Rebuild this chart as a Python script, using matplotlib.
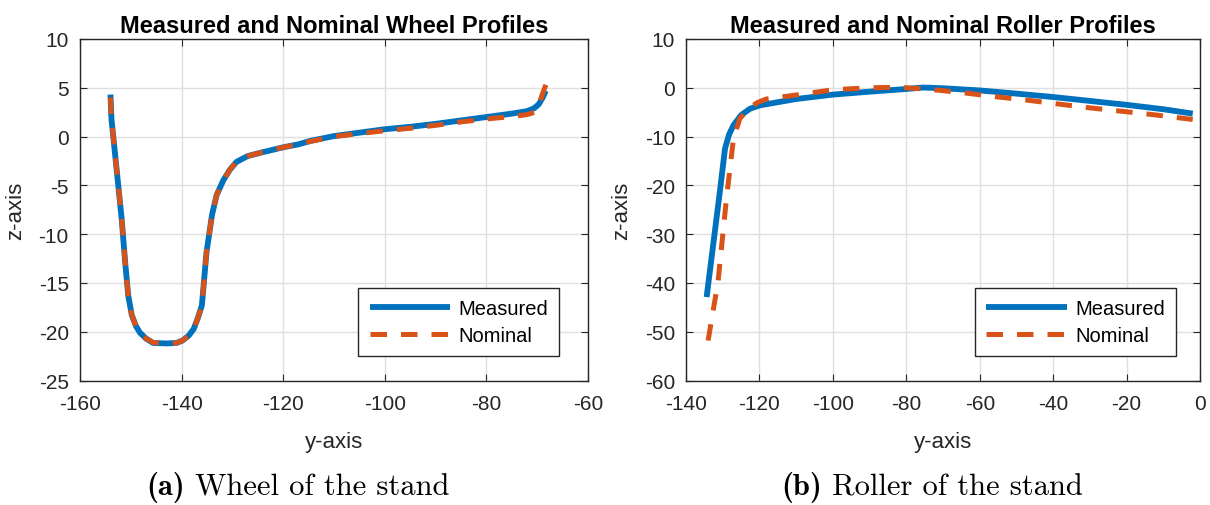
import matplotlib.pyplot as plt
import numpy as np

plt.rcParams['font.family'] = ['Liberation Sans', 'DejaVu Sans']
plt.rcParams['axes.unicode_minus'] = False

# wheel profile (measured / nominal)
wheel_y_meas = [-154.0, -153.8, -152.8, -151.8, -151.1, -150.5, -149.8, -149.0, -148.2,
                -147.0, -145.6, -143.0, -141.0, -139.8, -138.6, -137.6, -136.8, -136.0,
                -135.1, -134.0, -133.1, -131.8, -130.5, -129.2, -127.0, -124.0, -120.0,
                -117.0, -114.7, -110.0, -105.0, -100.0, -95.0, -90.0, -85.0, -80.0,
                -75.0, -72.0, -70.6, -69.7, -68.9, -68.3]
wheel_z_meas = [4.3, 1.8, -3.3, -8.4, -12.9, -16.3, -18.3, -19.4, -20.1,
                -20.7, -21.15, -21.2, -21.15, -20.9, -20.4, -19.7, -18.6, -17.3,
                -11.9, -8.0, -6.0, -4.5, -3.4, -2.6, -2.0, -1.6, -1.1,
                -0.8, -0.45, 0.05, 0.4, 0.75, 1.0, 1.3, 1.65, 2.0,
                2.35, 2.6, 2.9, 3.3, 4.0, 4.7]

wheel_y_nom = [-154.0, -153.8, -152.8, -151.8, -151.1, -150.5, -149.8, -149.0, -148.2,
               -147.0, -145.6, -143.0, -141.0, -139.8, -138.6, -137.6, -136.8, -136.0,
               -135.1, -134.0, -133.1, -131.8, -130.5, -129.2, -127.0, -124.0, -120.0,
               -117.0, -114.7, -110.0, -105.0, -100.0, -95.0, -90.0, -85.0, -80.0,
               -75.0, -72.0, -70.4, -69.6, -68.8, -68.2]
wheel_z_nom = [4.0, 1.8, -3.3, -8.4, -12.9, -16.3, -18.3, -19.4, -20.1,
               -20.7, -21.1, -21.2, -21.15, -20.9, -20.4, -19.7, -18.6, -17.3,
               -11.9, -8.0, -6.0, -4.5, -3.4, -2.6, -2.0, -1.6, -1.1,
               -0.8, -0.5, 0.0, 0.3, 0.6, 0.85, 1.15, 1.5, 1.8,
               2.05, 2.25, 2.5, 3.4, 4.6, 5.4]

# roller profile (measured / nominal)
roller_y_meas = [-134.4, -130.7, -129.4, -128.3, -127.1, -125.0, -122.6, -119.9,
                 -110.0, -100.0, -90.0, -80.0, -75.5, -70.0, -60.0, -50.0, -40.0,
                 -30.0, -20.0, -10.0, -2.0]
roller_z_meas = [-42.9, -20.7, -12.5, -9.6, -7.7, -5.6, -4.3, -3.6,
                 -2.3, -1.4, -0.8, -0.25, 0.05, -0.1, -0.55, -1.2, -1.9,
                 -2.7, -3.5, -4.4, -5.3]

roller_y_nom = [-134.0, -131.3, -129.0, -127.1, -125.4, -123.1, -120.5, -118.1,
                -107.2, -100.0, -90.0, -81.8, -73.3, -64.7, -56.1, -47.5, -38.9,
                -30.2, -21.5, -12.9, -4.2, -2.0]
roller_z_nom = [-51.8, -39.8, -22.7, -10.5, -6.4, -4.3, -3.0, -2.3,
                -1.2, -0.4, 0.0, 0.1, -0.35, -1.0, -1.8, -2.5, -3.3,
                -4.1, -4.8, -5.5, -6.3, -6.5]

blue = '#0072BD'
orange = '#D95319'

fig = plt.figure(figsize=(12.1, 5.06), dpi=100)
ax1 = fig.add_axes([0.0661, 0.246, 0.4198, 0.675])
ax2 = fig.add_axes([0.567, 0.246, 0.4248, 0.675])


def style_axes(ax, title, leg_anchor):
    ax.set_title(title, fontsize=17, fontweight='bold', pad=5)
    ax.grid(True, color='#e0e0e0', linewidth=1.0)
    ax.set_axisbelow(True)
    ax.tick_params(axis='x', pad=10)
    ax.tick_params(axis='y', pad=8)
    ax.tick_params(direction='in', top=True, right=True, labelsize=15,
                   color='#262626', labelcolor='#262626', length=5)
    for s in ax.spines.values():
        s.set_color('#262626')
        s.set_linewidth(1.0)
    ax.set_xlabel('y-axis', fontsize=16, color='#262626', labelpad=13)
    ax.set_ylabel('z-axis', fontsize=16, color='#262626', labelpad=9)
    leg = ax.legend(loc='lower right', bbox_to_anchor=leg_anchor, fontsize=14.5,
                    handlelength=4.0, handletextpad=0.4,
                    fancybox=False, framealpha=1, edgecolor='#262626',
                    borderaxespad=0, borderpad=0.55, labelspacing=0.4)
    leg.get_frame().set_linewidth(1.0)


ax1.plot(wheel_y_meas, wheel_z_meas, color=blue, lw=4.2, label='Measured',
         solid_capstyle='butt')
ax1.plot(wheel_y_nom, wheel_z_nom, color=orange, lw=3.6, dashes=(3.3, 2.8),
         label='Nominal')
ax1.set_xlim(-160, -60)
ax1.set_ylim(-25, 10)
ax1.set_xticks(np.arange(-160, -59, 20))
ax1.set_yticks(np.arange(-25, 11, 5))
style_axes(ax1, 'Measured and Nominal Wheel Profiles', (0.943, 0.072))

ax2.plot(roller_y_meas, roller_z_meas, color=blue, lw=4.2, label='Measured',
         solid_capstyle='butt')
ax2.plot(roller_y_nom, roller_z_nom, color=orange, lw=3.6, dashes=(3.3, 2.8),
         label='Nominal')
ax2.set_xlim(-140, 0)
ax2.set_ylim(-60, 10)
ax2.set_xticks(np.arange(-140, 1, 20))
ax2.set_yticks(np.arange(-60, 11, 10))
style_axes(ax2, 'Measured and Nominal Roller Profiles', (0.953, 0.072))

# sub-captions: bold tag + roman text, centred as one line
renderer = fig.canvas.get_renderer()
W = fig.get_figwidth() * fig.dpi
for xc, tag, txt in [(298, '(a)', ' Wheel of the stand'),
                     (932, '(b)', ' Roller of the stand')]:
    t1 = fig.text(0, 0.0217, tag, fontfamily='cmb10', fontsize=22,
                  ha='left', va='baseline')
    t2 = fig.text(0, 0.0217, txt, fontfamily='cmr10', fontsize=22,
                  ha='left', va='baseline')
    w1 = t1.get_window_extent(renderer).width
    w2 = t2.get_window_extent(renderer).width
    x0 = xc - (w1 + w2) / 2
    t1.set_x(x0 / W)
    t2.set_x((x0 + w1) / W)

fig.savefig('out.png', dpi=100)
